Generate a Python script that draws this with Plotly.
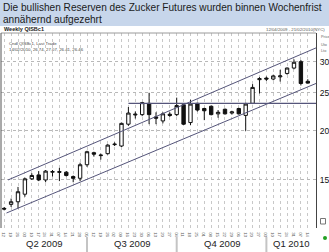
import math
import pandas as pd
import plotly.graph_objects as go

# ---------------- data ----------------
title_line1 = "Die bullishen Reserven des Zucker Futures wurden binnen Wochenfrist"
title_line2 = "annähernd aufgezehrt"
chart_name = "Weekly QISBc1"
date_range_text = "12/04/2009 - 21/02/2010(NYC)"
info_line1 = "Cndl QISBc1, Last Trade"
info_line2 = "14/02/2010, 26.74, 27.07, 26.41, 26.46"

week_start = "2009-04-12"
n_weeks = 45
weeks = pd.date_range(week_start, periods=n_weeks, freq="7D")

open_ = [12.70, 13.00, 13.20, 13.80, 15.10, 15.45, 15.00, 15.70, 15.75, 15.70,
         15.30, 15.15, 16.40, 17.60, 17.30, 17.50, 18.45, 18.30, 20.80, 21.95,
         22.00, 23.50, 21.70, 21.20, 22.05, 22.00, 23.30, 21.00, 23.50, 22.80,
         23.10, 22.10, 22.70, 22.20, 22.80, 21.90, 23.50, 27.00, 27.25, 27.10,
         27.45, 28.00, 28.90, 30.00, 26.74]
high = [12.80, 13.45, 14.40, 15.20, 15.60, 15.80, 15.90, 15.90, 16.10, 15.80,
        15.40, 16.60, 17.80, 17.70, 17.50, 18.50, 18.70, 21.00, 23.00, 22.40,
        23.70, 25.00, 22.30, 22.30, 22.30, 24.30, 23.50, 24.00, 23.60, 22.90,
        23.20, 22.60, 22.80, 22.50, 22.90, 23.60, 26.30, 27.40, 27.50, 27.80,
        28.60, 29.00, 30.40, 30.30, 27.07]
low = [12.55, 12.80, 12.70, 13.60, 15.00, 14.90, 14.80, 15.30, 14.90, 15.30,
       14.80, 14.90, 16.20, 17.20, 16.90, 17.40, 18.30, 18.20, 20.60, 21.50,
       21.80, 20.80, 20.80, 20.90, 21.70, 21.80, 20.70, 20.70, 22.40, 21.30,
       21.90, 21.60, 22.00, 22.00, 22.00, 20.00, 23.40, 24.90, 26.80, 26.90,
       26.70, 27.80, 28.70, 26.10, 26.41]
close = [12.65, 13.20, 14.00, 15.10, 15.40, 15.00, 15.80, 15.75, 15.70, 15.40,
         15.15, 16.40, 17.70, 17.45, 17.35, 18.40, 18.50, 20.90, 22.20, 22.05,
         23.60, 22.00, 21.55, 22.10, 21.90, 23.20, 20.80, 23.40, 22.60, 22.50,
         22.00, 22.30, 22.10, 22.35, 22.10, 23.40, 25.80, 27.15, 27.10, 27.60,
         27.60, 28.90, 29.90, 26.40, 26.46]

price_ticks = [15, 20, 25, 30]

upper_channel_weeks = [0.55, 45.33]
upper_channel_prices = [15.0, 32.6]
lower_channel_weeks = [0.33, 45.62]
lower_channel_prices = [12.36, 26.6]
resistance_weeks = [18.0, 46.0]
resistance_prices = [23.5, 23.5]

quarter_labels = ["Q2 2009", "Q3 2009", "Q4 2009", "Q1 2010"]
quarter_break_weeks = [12, 25, 38]   # first weekly tick of Q3, Q4, Q1

assert all(len(a) == n_weeks for a in (open_, high, low, close))

# ---------------- layout helpers ----------------
W, H = 329, 252
PL, PR, PT, PB = 1, 316, 33, 228          # plot area in pixels
x_range_weeks = [-0.464, 45.19]
y_range = [math.log10(11.32), math.log10(35.49)]


def wk(i):
    return pd.Timestamp(week_start) + pd.Timedelta(days=7 * i)


def px(X):
    return (X - PL) / (PR - PL)


def py(Y):
    return (PB - Y) / (PB - PT)


FONT = "Liberation Sans, Arial, sans-serif"
LINE_COL = "#55557a"

fig = go.Figure()

fig.add_trace(go.Candlestick(
    x=weeks, open=open_, high=high, low=low, close=close,
    increasing=dict(line=dict(color="#111111", width=1), fillcolor="#ffffff"),
    decreasing=dict(line=dict(color="#111111", width=1), fillcolor="#111111"),
    whiskerwidth=0, showlegend=False, hoverinfo="skip",
))

fig.add_trace(go.Scatter(
    x=[wk(i) for i in upper_channel_weeks], y=upper_channel_prices,
    mode="lines", line=dict(color=LINE_COL, width=1), cliponaxis=False,
    showlegend=False, hoverinfo="skip"))
fig.add_trace(go.Scatter(
    x=[wk(i) for i in lower_channel_weeks], y=lower_channel_prices,
    mode="lines+markers", line=dict(color=LINE_COL, width=1),
    marker=dict(size=[0, 4], color="#111111"), cliponaxis=False,
    showlegend=False, hoverinfo="skip"))
fig.add_trace(go.Scatter(
    x=[wk(i) for i in resistance_weeks], y=resistance_prices,
    mode="lines", line=dict(color=LINE_COL, width=1.2),
    showlegend=False, hoverinfo="skip"))

shapes = []
# title background
shapes.append(dict(type="rect", xref="paper", yref="paper",
                   x0=px(-2), x1=px(W + 2), y0=py(26), y1=py(-2),
                   fillcolor="#c7d6eb", line=dict(width=0), layer="below"))
# frame lines (top, left)
shapes.append(dict(type="line", xref="paper", yref="paper", x0=0, x1=1, y0=1, y1=1,
                   line=dict(color="#9a9a9a", width=1)))
shapes.append(dict(type="line", xref="paper", yref="paper", x0=0, x1=0, y0=0, y1=1,
                   line=dict(color="#555555", width=1)))
# quarter separators
for b in quarter_break_weeks:
    shapes.append(dict(type="line", xref="x", yref="paper", x0=wk(b), x1=wk(b),
                       y0=py(237), y1=py(253), line=dict(color="#c4c4c4", width=2)))
# small icons on the right
shapes.append(dict(type="rect", xref="paper", yref="paper", x0=px(320.5), x1=px(325.5),
                   y0=py(224), y1=py(218.5), line=dict(color="#777777", width=1),
                   fillcolor="#ffffff"))
shapes.append(dict(type="circle", xref="paper", yref="paper", x0=px(323), x1=px(327),
                   y0=py(240), y1=py(236), line=dict(width=0), fillcolor="#22a022"))

annotations = []


def txt(text, X, Y, size, xanchor="left", color="#222222", bold=False):
    t = f"<b>{text}</b>" if bold else text
    annotations.append(dict(text=t, x=px(X), y=py(Y),
                            xref="paper", yref="paper", xanchor=xanchor, yanchor="middle",
                            showarrow=False, font=dict(family=FONT, size=size, color=color)))


txt(title_line1, 0.5, 7.5, 10.1, color="#1a1a1a")
txt(title_line2, 0.5, 19.5, 10.1, color="#1a1a1a")
txt(chart_name, 1.5, 29.3, 5.5, bold=True)
txt(date_range_text, 327, 29.5, 4.3, xanchor="right", color="#555555")
txt(info_line1, 6.5, 43.3, 4.3, color="#444444")
txt(info_line2, 6.5, 49, 4.3, color="#444444")
txt("Price", 318.5, 36.7, 3.8, color="#666666")
txt("Uto", 318.5, 44.5, 3.8, color="#666666")
txt("Lto", 318.5, 50.5, 3.8, color="#666666")

# quarter labels centered on visible quarter spans
bounds = [x_range_weeks[0]] + quarter_break_weeks + [x_range_weeks[1]]
for k, lab in enumerate(quarter_labels):
    mid = (bounds[k] + bounds[k + 1]) / 2
    annotations.append(dict(text=lab, x=wk(mid), y=py(243.5), xref="x", yref="paper",
                            xanchor="center", yanchor="middle", showarrow=False,
                            font=dict(family=FONT, size=9.5, color="#222222")))

fig.update_layout(
    width=W, height=H,
    margin=dict(l=PL, r=W - PR, t=PT, b=H - PB, pad=0, autoexpand=False),
    paper_bgcolor="#ffffff", plot_bgcolor="#ffffff",
    shapes=shapes, annotations=annotations,
    showlegend=False,
    font=dict(family=FONT),
)
fig.update_xaxes(
    type="date", range=[wk(x_range_weeks[0]), wk(x_range_weeks[1])],
    rangeslider=dict(visible=False), automargin=False,
    tickmode="array", tickvals=list(weeks), tickformat="%d",
    tickfont=dict(size=4.3, color="#555555"), ticks="", ticklabelstandoff=1,
    showgrid=True, gridcolor="#c8c8c8", griddash="dot", gridwidth=1,
    showline=False, zeroline=False,
)
fig.update_yaxes(
    type="log", range=y_range, side="right", automargin=False,
    tickmode="array", tickvals=price_ticks, ticktext=[str(v) for v in price_ticks],
    tickfont=dict(size=8.5, color="#111111", family=FONT),
    ticks="", ticklabelstandoff=1,
    showgrid=True, gridcolor="#b8b8b8", griddash="dot", gridwidth=1,
    showline=True, linecolor="#444444", linewidth=1, zeroline=False,
)

fig.write_html("out.html")
